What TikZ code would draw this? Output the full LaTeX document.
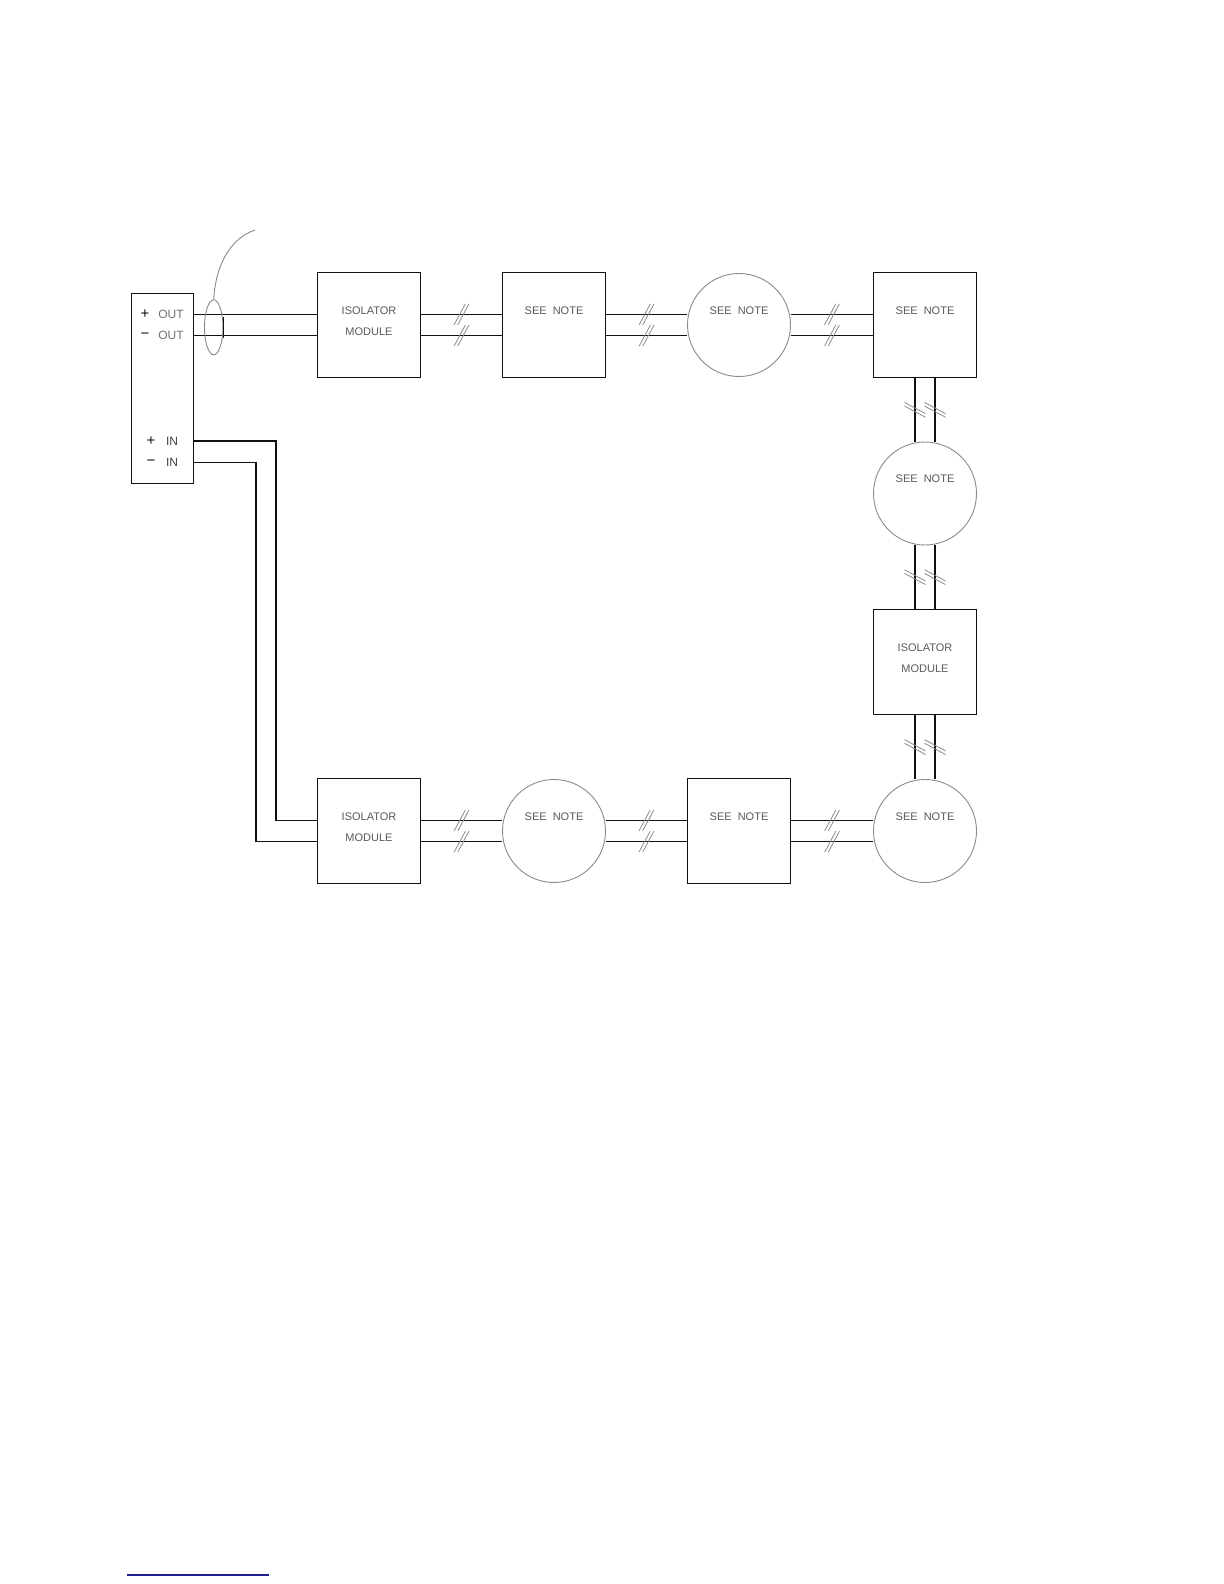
\documentclass[tikz,border=0pt]{standalone}
\usepackage{fontspec}
\newfontfamily\cadfont{Liberation Sans}
\usetikzlibrary{positioning,calc,decorations.markings,shapes.geometric}
\definecolor{ink}{HTML}{111111}
\definecolor{pale}{HTML}{8A8A8A}
\definecolor{lnk}{HTML}{1F1F8F}
\tikzset{
  lbl/.style={font=\cadfont\fontsize{5.5}{10.3}\selectfont, text=ink!70, align=center, inner sep=0pt},
  sgn/.style={font=\cadfont\fontsize{7.5}{8}\selectfont, text=ink, inner sep=0pt},
  wire/.style={draw=ink, line width=0.6pt},
  brk/.style={postaction={decorate, decoration={markings, mark=at position 0.5 with {
    \draw[pale, line width=0.4pt] (-3.7pt,-5.25pt) -- (1.9pt,5.25pt);
    \draw[pale, line width=0.4pt] (-1.9pt,-5.25pt) -- (3.7pt,5.25pt);}}}},
}
\begin{document}
\begin{tikzpicture}[x=0.5pt, y=-0.5pt,
  blk/.style={rectangle, draw=ink, line width=0.6pt, minimum width=51.5pt, minimum height=52.5pt, inner sep=0pt},
  dsk/.style={circle, draw=pale, line width=0.45pt, minimum size=51.5pt, inner sep=0pt},
  iso/.style={blk, label={[lbl, yshift=2pt]center:ISOLATOR\\MODULE}},
  see/.style={label={[lbl, yshift=7.15pt]center:SEE\ \ NOTE}}]
\useasboundingbox (0,0) rectangle (1224,1584);
% panel
\node[rectangle, draw=ink, line width=0.6pt, minimum width=30.8pt, minimum height=95pt, inner sep=0pt] (panel) at (162.5,388.3) {};
\node[sgn] (sOutP) at (145,314.3) {+};
\node[sgn] (sOutM) at (145,335.8) {−};
\node[sgn] (sInP) at (151,441) {+};
\node[sgn] (sInM) at (151,463.2) {−};
\node[lbl, text=ink!60, anchor=east, font=\cadfont\fontsize{6}{7}\selectfont] (tOutP) at (184,314.3) {OUT};
\node[lbl, text=ink!60, anchor=east, font=\cadfont\fontsize{6}{7}\selectfont] (tOutM) at (184,335.3) {OUT};
\node[lbl, text=ink!80, anchor=east, font=\cadfont\fontsize{6}{7}\selectfont] (tInP) at (178.5,441) {IN};
\node[lbl, text=ink!80, anchor=east, font=\cadfont\fontsize{6}{7}\selectfont] (tInM) at (178.5,462.7) {IN};
% loop devices
\node[iso] (iso1) at (369,325) {};
\node[blk, see] (box1) at (554,325) {};
\node[dsk, see] (circ1) at (739,325) {};
\node[blk, see] (box2) at (925,325) {};
\node[dsk, see] (circ2) at (925,493.5) {};
\node[iso] (iso2) at (925,662) {};
\node[iso] (iso3) at (369,831) {};
\node[dsk, see] (circ3) at (554,831) {};
\node[blk, see] (box3) at (739,831) {};
\node[dsk, see] (circ4) at (925,831) {};
% panel wiring
\coordinate (outP) at ([yshift=37pt]panel.east);
\coordinate (outM) at ([yshift=26.5pt]panel.east);
\coordinate (inP) at ([yshift=-26.35pt]panel.east);
\coordinate (inM) at ([yshift=-37.2pt]panel.east);
\draw[wire] (outP) -- (outP -| iso1.west);
\draw[wire] (outM) -- (outM -| iso1.west);
\draw[wire] (inP) -- ++(82,0) |- ([yshift=5.3pt]iso3.west);
\draw[wire] (inM) -- ++(62,0) |- ([yshift=-5.3pt]iso3.west);
% shield and leader
\node[ellipse, draw=pale, line width=0.45pt, minimum width=9.2pt, minimum height=27.5pt, inner sep=0pt] (shield) at (213.7,327.3) {};
\draw[wire] ([yshift=5.35pt]shield.east) -- ([yshift=-5.35pt]shield.east);
\coordinate (tag) at (255,230);
\draw[pale, line width=0.45pt] (shield.north) .. controls (216,262) and (232,238) .. (tag);
% loop wiring
\foreach \a/\b in {iso1/box1, box1/circ1, circ1/box2, iso3/circ3, circ3/box3, box3/circ4} {
  \draw[wire, brk] ([yshift=5.3pt]\a.east) -- ([yshift=5.3pt]\b.west);
  \draw[wire, brk] ([yshift=-5.3pt]\a.east) -- ([yshift=-5.3pt]\b.west);
}
\foreach \a/\b in {box2/circ2, circ2/iso2, iso2/circ4} {
  \draw[wire, brk] ([xshift=-5pt]\a.south) -- ([xshift=-5pt]\b.north);
  \draw[wire, brk] ([xshift=5pt]\a.south) -- ([xshift=5pt]\b.north);
}
\draw[lnk, line width=0.7pt] (126.7,1575) -- (269,1575);
\end{tikzpicture}
\end{document}
